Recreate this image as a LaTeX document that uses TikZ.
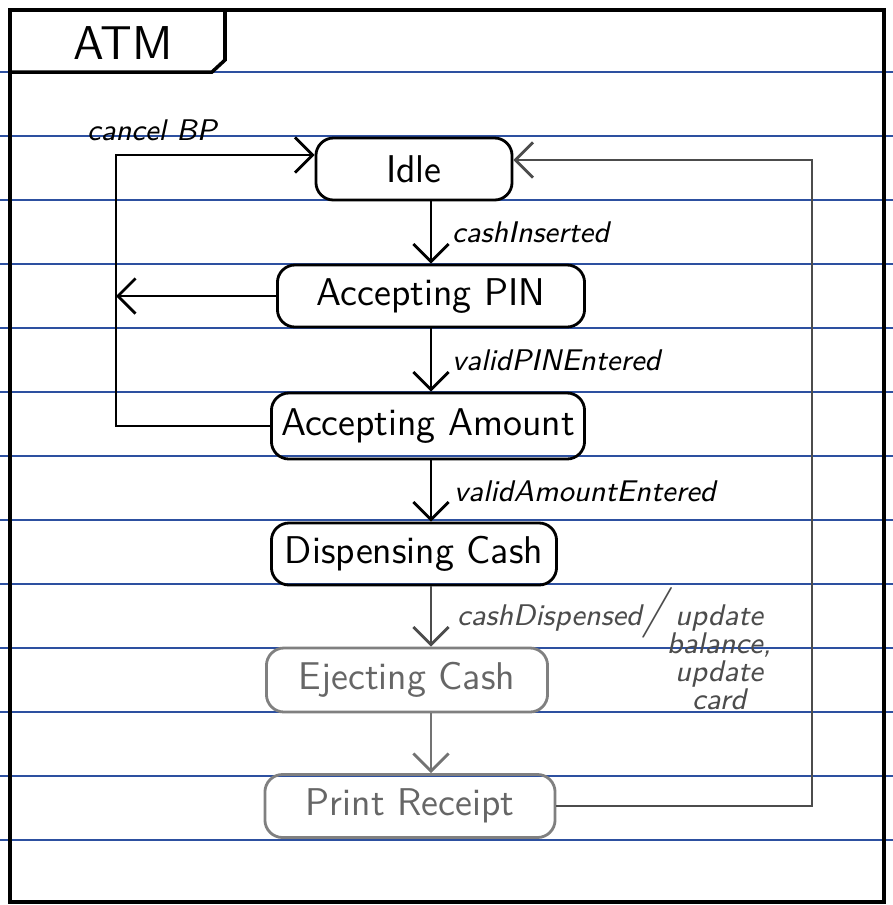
\documentclass[tikz,border=0pt]{standalone}
\usetikzlibrary{arrows.meta}
\definecolor{ruleblue}{RGB}{45,80,160}

\begin{document}
\begin{tikzpicture}[x=0.01cm, y=-0.01cm, thick,
  state/.style={draw, rounded corners=5pt, minimum height=0.62cm, inner sep=0pt,
    font=\sffamily\fontsize{11}{13}\selectfont},
  faded/.style={draw=black!50, text=black!60},
  arr/.style={-{Straight Barb[length=5pt,width=10pt]}},
  lbl/.style={font=\sffamily\itshape\fontsize{8.5}{10}\selectfont},
  ruled/.style={ruleblue, line width=0.6pt}]
  \useasboundingbox (0,0) rectangle (893,905);

  % paper lines
  \foreach \ly in {72,136,...,840}
    \draw[ruled] (0,\ly) -- (893,\ly);

  % frame and tab
  \draw[line width=1.2pt] (10,10) rectangle (884,902);
  \draw[line width=1pt] (10,72) -- (212,72) -- (225,60) -- (225,10);
  \node[font=\sffamily\fontsize{13.5}{15}\selectfont] (atm) at (123,43) {ATM};

  % states
  \node[state, minimum width=1.96cm] (idle) at (414,169) {Idle};
  \node[state, minimum width=3.07cm] (pin) at (431,296) {Accepting PIN};
  \node[state, minimum width=3.13cm, minimum height=0.66cm] (amount) at (428,426) {Accepting Amount};
  \node[state, minimum width=2.85cm] (disp) at (414,554) {Dispensing Cash};
  \node[state, faded, minimum width=2.81cm, minimum height=0.64cm] (eject) at (407,680) {Ejecting Cash};
  \node[state, faded, minimum width=2.90cm, minimum height=0.63cm] (print) at (410,806) {Print Receipt};

  \coordinate (spine) at (431,0);
  \coordinate (loopL) at (116,155);
  \coordinate (loopR) at (812,160);

  % main line
  \draw[arr] (idle.south -| spine) -- (pin.north -| spine)
    node[lbl, midway, right, xshift=0.08cm] {cashInserted};
  \draw[arr] (pin.south -| spine) -- (amount.north -| spine)
    node[lbl, midway, right, xshift=0.08cm] {validPINEntered};
  \draw[arr] (amount.south -| spine) -- (disp.north -| spine)
    node[lbl, midway, right, xshift=0.1cm] {validAmountEntered};
  \draw[arr, black!70] (disp.south -| spine) -- (eject.north -| spine)
    node[lbl, midway, anchor=base west, xshift=0.13cm, yshift=-0.085cm, text=black!70]
    {cashDispensed{\Large/}\begin{tabular}[t]{@{}c@{}}update\\[-2pt] balance,\\[-2pt] update\\[-2pt] card\end{tabular}};
  \draw[arr, black!55] (eject.south -| spine) -- (print.north -| spine);

  % cancel
  \draw[arr] (amount.west) -| (loopL) -- (loopL -| idle.west);
  \draw[arr] (pin.west) -- (pin.west -| loopL);
  \node[lbl, anchor=base west] (cancel) at (74,140) {cancel BP};

  % back to idle
  \draw[arr, black!70] (print.east) -| (loopR) -- (loopR -| idle.east);
\end{tikzpicture}
\end{document}
